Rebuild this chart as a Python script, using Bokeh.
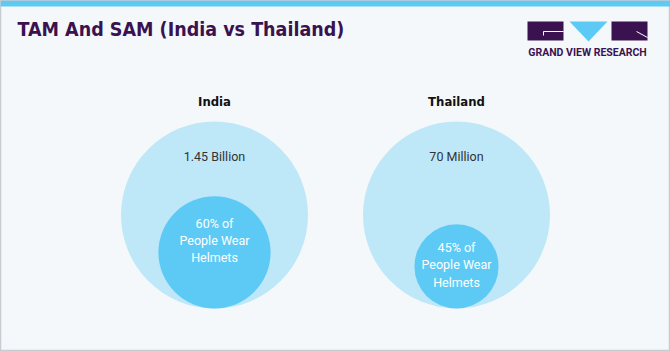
from bokeh.plotting import figure
from bokeh.models import Range1d, ColumnDataSource
from bokeh.core.properties import value
from bokeh.embed import file_html
from bokeh.resources import INLINE

# ---- data ----
countries = ["India", "Thailand"]
tam_labels = ["1.45 Billion", "70 Million"]
sam_pct = [60, 45]
sam_labels = ["60% of\nPeople Wear\nHelmets", "45% of\nPeople Wear\nHelmets"]

# ---- layout constants (pixels) ----
W, H = 670, 351
centers_x = [214, 456]
big_cy = 214.5
big_r = 93.5
bottom = big_cy + big_r
label_offsets = [-12, -1.5]

BG = "#F4F8FB"
LIGHT = "#BEE8F8"
BLUE = "#5DCAF5"
PURPLE = "#3A1250"
COND = "DejaVu Sans Condensed"

p = figure(width=W, height=H, x_range=Range1d(0, W), y_range=Range1d(H, 0),
           toolbar_location=None, output_backend="svg", min_border=0)
p.axis.visible = False
p.grid.visible = False
p.background_fill_color = BG
p.border_fill_color = BG
p.outline_line_color = "#C8CCD0"
p.outline_line_width = 1.5

# top bar
p.quad(left=[0], right=[W], top=[0], bottom=[6], fill_color=BLUE, line_color=None)

# title
p.text(x=[17], y=[29], text=["TAM And SAM (India vs Thailand)"],
       text_font=value(COND), text_font_style="bold",
       text_font_size="19.5px", text_color=PURPLE, text_baseline="middle", text_align="left")

# logo
p.quad(left=[527, 611], right=[563, 647], top=[21, 21], bottom=[40, 40],
       fill_color=PURPLE, line_color=None)
p.patch(x=[569, 607, 588], y=[21, 21, 41], fill_color=BLUE, line_color=None)
p.segment(x0=[543], y0=[31], x1=[563], y1=[31], line_color="white", line_width=1)
p.segment(x0=[543], y0=[31], x1=[543], y1=[35], line_color="white", line_width=1)
p.segment(x0=[636], y0=[31], x1=[647], y1=[37], line_color="white", line_width=1)
p.text(x=[587], y=[52], text=["GRAND VIEW RESEARCH"], text_font=value("Roboto"),
       text_font_style="bold", text_font_size="10.5px", text_color=PURPLE,
       text_align="center", text_baseline="middle")

# circles
big_src = ColumnDataSource(dict(x=centers_x, y=[big_cy] * 2, r=[big_r] * 2))
p.circle(x="x", y="y", radius="r", source=big_src, fill_color=LIGHT, line_color=None)

small_r = [big_r * v / 100 for v in sam_pct]
small_cy = [bottom - r for r in small_r]
small_src = ColumnDataSource(dict(x=centers_x, y=small_cy, r=small_r))
p.circle(x="x", y="y", radius="r", source=small_src, fill_color=BLUE, line_color=None)

# country titles
p.text(x=centers_x, y=[101, 101], text=countries, text_font=value(COND),
       text_font_style="bold", text_font_size="13px", text_color="#111111",
       text_align="center", text_baseline="middle")

# TAM labels
p.text(x=centers_x, y=[156, 156], text=tam_labels, text_font=value("Roboto"),
       text_font_size="12.5px", text_color="#333333", text_align="center", text_baseline="middle")

# SAM labels
p.text(x=centers_x, y=[c + o for c, o in zip(small_cy, label_offsets)], text=sam_labels,
       text_font=value("Roboto"), text_font_size="12.5px", text_color="white",
       text_align="center", text_baseline="middle", text_line_height=1.15)

open("out.html", "w").write(file_html(p, INLINE))
